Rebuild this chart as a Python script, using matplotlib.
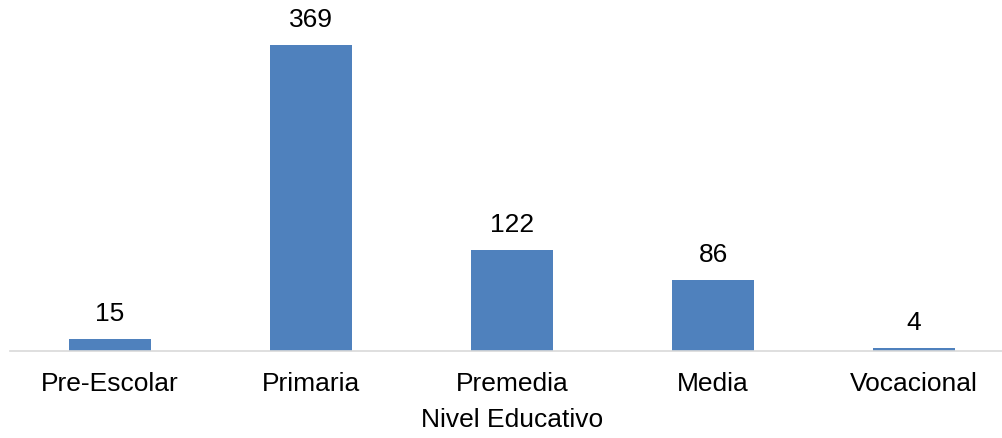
import matplotlib
matplotlib.use("Agg")
import matplotlib.pyplot as plt

categories = ["Pre-Escolar", "Primaria", "Premedia", "Media", "Vocacional"]
values = [15, 369, 122, 86, 4]

plt.rcParams["font.family"] = ["Liberation Sans", "DejaVu Sans"]

fig = plt.figure(figsize=(10.02, 4.38), dpi=100)
ax = fig.add_axes([0.0095, 0.1986, 1.003, 0.758])

x = list(range(len(categories)))
bars = ax.bar(x, values, width=0.405, color="#4F81BD")

ax.set_xlim(-0.5, len(categories) - 0.5)
ax.set_ylim(0, 400)

# value labels
for bar in bars:
    h = bar.get_height()
    ax.annotate(str(int(h)), (bar.get_x() + bar.get_width() / 2, h),
                xytext=(0, 9), textcoords="offset points",
                ha="center", va="bottom", fontsize=19)

ax.set_xticks(x)
ax.set_xticklabels(categories, fontsize=19)
ax.tick_params(axis="x", length=0, pad=15)
ax.set_yticks([])
ax.set_xlabel("Nivel Educativo", fontsize=19, labelpad=9)

for s in ["top", "right", "left"]:
    ax.spines[s].set_visible(False)
ax.spines["bottom"].set_color("#D9D9D9")
ax.spines["bottom"].set_linewidth(1.2)

fig.savefig("out.png", dpi=100)
